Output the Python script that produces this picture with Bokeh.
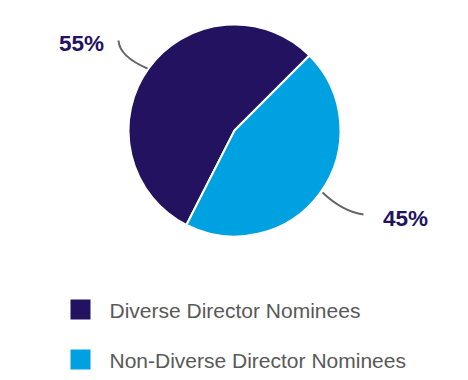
import math
from bokeh.plotting import figure
from bokeh.models import Range1d, ColumnDataSource
from bokeh.core.properties import value
from bokeh.embed import file_html
from bokeh.resources import INLINE

categories = ["Diverse Director Nominees", "Non-Diverse Director Nominees"]
shares = [55, 45]
labels = ["55%", "45%"]
colors = ["#221260", "#00A1E0"]

W, H = 460, 372
p = figure(width=W, height=H, output_backend="svg", toolbar_location=None,
           x_range=Range1d(0, W), y_range=Range1d(380 - H, 380),
           min_border=0, outline_line_color=None)
p.axis.visible = False
p.grid.visible = False
p.background_fill_color = "white"
p.border_fill_color = "white"

def Y(sy):
    return 380 - sy

cx, cy, r = 234, Y(130), 106
total = sum(shares)
start0 = math.radians(45)
starts, ends = [], []
a = start0
for s in shares:
    starts.append(a)
    a += 2 * math.pi * s / total
    ends.append(a)

src = ColumnDataSource(dict(start=starts, end=ends, color=colors))
p.wedge(x=cx, y=cy, radius=r, start_angle="start", end_angle="end",
        direction="anticlock", fill_color="color", line_color="white",
        line_width=2, source=src)

# leader lines
p.quadratic(x0=[118, 322], y0=[Y(40), Y(192)], x1=[147, 363], y1=[Y(68), Y(214)],
            cx=[119, 342], cy=[Y(56), Y(211)], line_color="#666666", line_width=2)

# percentage labels
p.text(x=[81, 405], y=[Y(43), Y(218)], text=labels, text_align="center",
       text_baseline="middle", text_font=value("Liberation Sans"),
       text_font_size="22.5px", text_font_style="bold", text_color="#221260")

# legend
p.rect(x=[80, 80], y=[Y(309), Y(359)], width=20, height=20, fill_color=colors,
       line_color=None)
p.text(x=[109, 109], y=[Y(310), Y(360)], text=categories, text_align="left",
       text_baseline="middle", text_font=value("Liberation Sans"),
       text_font_size="21px", text_color="#595959")

open("out.html", "w").write(file_html(p, INLINE))
